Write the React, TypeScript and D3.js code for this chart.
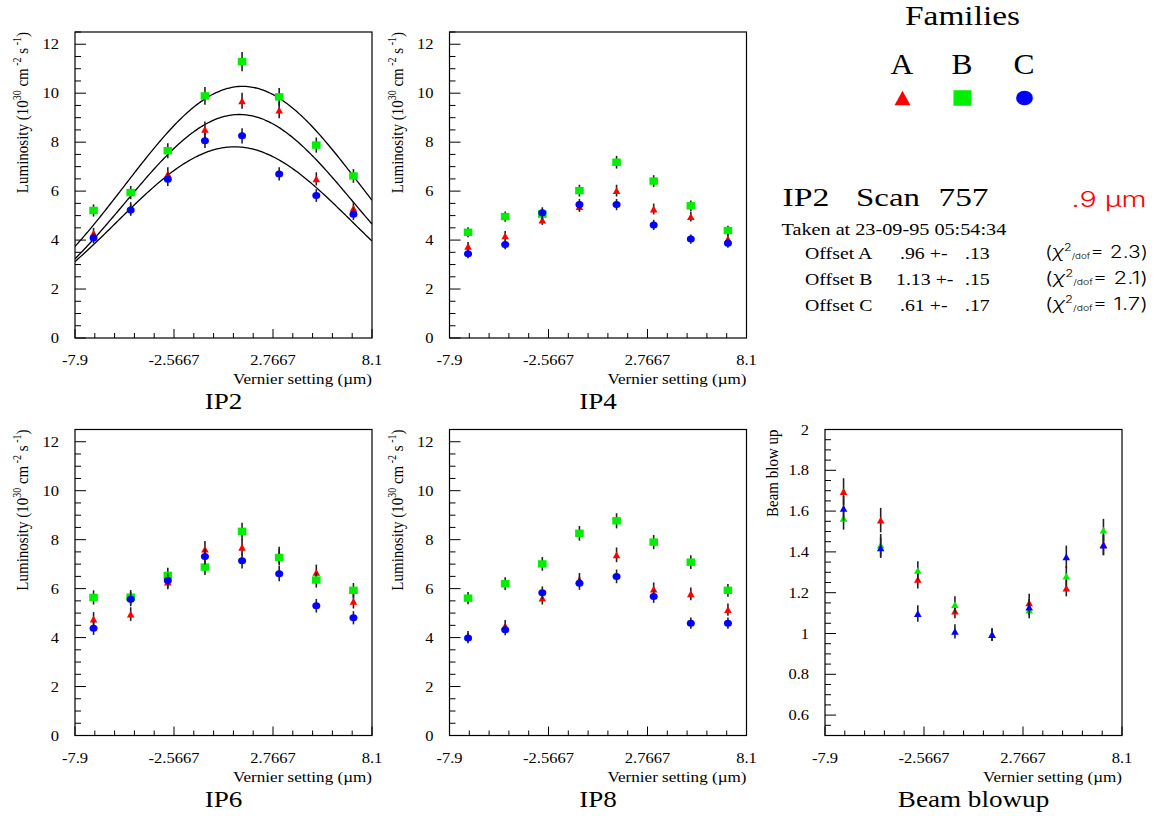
import { useEffect, useRef } from "react"
import * as d3 from "d3"

const SERIF = '"Liberation Serif", "Times New Roman", Times, serif'
const SANS = '"Inter", "Liberation Sans", Arial, sans-serif'

// vernier positions (µm) and axis ticks
const xPos = [-6.9, -4.9, -2.9, -0.9, 1.1, 3.1, 5.1, 7.1]
const xMajorTicks = [-7.9, -2.5667, 2.7667, 8.1]
const xTickLabels = ["-7.9", "-2.5667", "2.7667", "8.1"]
const lumTicks = [0, 2, 4, 6, 8, 10, 12]
const lumTickLabels = ["0", "2", "4", "6", "8", "10", "12"]
const blowTicks = [0.6, 0.8, 1, 1.2, 1.4, 1.6, 1.8, 2]
const blowTickLabels = ["0.6", "0.8", "1", "1.2", "1.4", "1.6", "1.8", "2"]

// IP2 luminosity
const ip2A = [4.28, 5.3, 6.7, 8.52, 9.69, 9.31, 6.5, 5.3]
const ip2B = [5.21, 5.94, 7.65, 9.89, 11.29, 9.85, 7.88, 6.62]
const ip2C = [4.08, 5.23, 6.48, 8.06, 8.26, 6.7, 5.82, 5.06]
const ip2ErrA = [0.22, 0.25, 0.28, 0.32, 0.33, 0.33, 0.27, 0.25]
const ip2ErrB = [0.25, 0.27, 0.31, 0.36, 0.39, 0.36, 0.31, 0.28]
const ip2ErrC = [0.21, 0.24, 0.27, 0.3, 0.31, 0.27, 0.26, 0.24]

// IP4 luminosity
const ip4A = [3.74, 4.17, 4.82, 5.37, 6.02, 5.27, 4.96, 4.05]
const ip4B = [4.32, 4.96, 5.06, 6.02, 7.18, 6.41, 5.4, 4.39]
const ip4C = [3.44, 3.82, 5.12, 5.45, 5.45, 4.62, 4.04, 3.87]
const ip4ErrA = [0.18, 0.2, 0.2, 0.22, 0.24, 0.22, 0.2, 0.19]
const ip4ErrB = [0.2, 0.21, 0.21, 0.24, 0.26, 0.24, 0.22, 0.2]
const ip4ErrC = [0.18, 0.19, 0.22, 0.23, 0.23, 0.21, 0.19, 0.18]

// IP6 luminosity
const ip6A = [4.76, 4.96, 6.27, 7.61, 7.69, 7.38, 6.66, 5.48]
const ip6B = [5.64, 5.65, 6.54, 6.88, 8.34, 7.27, 6.35, 5.93]
const ip6C = [4.38, 5.57, 6.33, 7.31, 7.14, 6.61, 5.3, 4.81]
const ip6ErrA = [0.28, 0.28, 0.3, 0.34, 0.34, 0.33, 0.32, 0.29]
const ip6ErrB = [0.29, 0.29, 0.31, 0.32, 0.35, 0.33, 0.31, 0.3]
const ip6ErrC = [0.27, 0.29, 0.3, 0.32, 0.32, 0.31, 0.28, 0.27]

// IP8 luminosity
const ip8A = [4.05, 4.48, 5.61, 6.36, 7.38, 5.98, 5.79, 5.14]
const ip8B = [5.61, 6.2, 7.01, 8.26, 8.77, 7.9, 7.08, 5.93]
const ip8C = [3.98, 4.32, 5.83, 6.22, 6.5, 5.68, 4.59, 4.59]
const ip8ErrA = [0.22, 0.24, 0.26, 0.28, 0.3, 0.27, 0.26, 0.25]
const ip8ErrB = [0.25, 0.26, 0.28, 0.3, 0.31, 0.29, 0.28, 0.26]
const ip8ErrC = [0.21, 0.22, 0.26, 0.27, 0.28, 0.26, 0.23, 0.23]

// beam blow-up
const blowA = [1.696, 1.556, 1.265, 1.11, 0.995, 1.15, 1.222, 1.436]
const blowB = [1.564, 1.433, 1.309, 1.142, 0.995, 1.115, 1.281, 1.507]
const blowC = [1.613, 1.42, 1.098, 1.01, 0.994, 1.129, 1.376, 1.433]
const blowErrA = [0.065, 0.06, 0.045, 0.035, 0.03, 0.045, 0.04, 0.05]
const blowErrB = [0.055, 0.055, 0.045, 0.04, 0.03, 0.04, 0.05, 0.055]
const blowErrC = [0.06, 0.05, 0.04, 0.035, 0.03, 0.04, 0.055, 0.05]

// gaussian fits on IP2 (A, B, C)
const fitAmp = [9.13, 10.28, 7.81]
const fitMean = [0.96, 1.13, 0.7]
const fitSigma = [6.15, 6.35, 6.35]

const families = ["A", "B", "C"]
const famColors = ["#ff0000", "#00ee00", "#0000ff"]
const offsetVals = [".96 +-", "1.13 +-", ".61 +-"]
const offsetErrs = [".13", ".15", ".17"]
const chi2 = ["2.3", "2.1", "1.7"]

const W = 297
const H = 306

const panels = [
  { name: "IP2", x0: 75, y0: 32, kind: "lum", series: [ip2A, ip2B, ip2C], errs: [ip2ErrA, ip2ErrB, ip2ErrC], fit: true },
  { name: "IP4", x0: 449.5, y0: 32, kind: "lum", series: [ip4A, ip4B, ip4C], errs: [ip4ErrA, ip4ErrB, ip4ErrC], fit: false },
  { name: "IP6", x0: 75, y0: 429.5, kind: "lum", series: [ip6A, ip6B, ip6C], errs: [ip6ErrA, ip6ErrB, ip6ErrC], fit: false },
  { name: "IP8", x0: 449.5, y0: 429.5, kind: "lum", series: [ip8A, ip8B, ip8C], errs: [ip8ErrA, ip8ErrB, ip8ErrC], fit: false },
  { name: "Beam blowup", x0: 825, y0: 429.5, kind: "blow", series: [blowA, blowB, blowC], errs: [blowErrA, blowErrB, blowErrC], fit: false },
]

function addText(parent, x, y, str, size, opts: any = {}) {
  const { anchor = "start", family = SERIF, fill = "#000", sx = 1, w = 0, weight = "normal" } = opts
  const t = parent
    .append("text")
    .attr("text-anchor", anchor)
    .attr("font-family", family)
    .attr("font-size", size)
    .attr("font-weight", weight)
    .attr("fill", fill)
    .text(str)
  let k = sx
  if (w) k = w / t.node().getBBox().width
  t.attr("transform", `translate(${x},${y}) scale(${k},1)`)
  return t
}

function marker(g, shape, cx, cy, color, s = 1) {
  if (shape === "tri") {
    const w = 7.6 * s, h = 6.8 * s
    g.append("path")
      .attr("d", `M${cx - w / 2},${cy + h / 2}L${cx + w / 2},${cy + h / 2}L${cx},${cy - h / 2}Z`)
      .attr("fill", color)
  } else if (shape === "sq") {
    const w = 8.6 * s, h = 7.4 * s
    g.append("rect").attr("x", cx - w / 2).attr("y", cy - h / 2).attr("width", w).attr("height", h).attr("fill", color)
  } else {
    g.append("ellipse").attr("cx", cx).attr("cy", cy).attr("rx", 4 * s).attr("ry", 3.5 * s).attr("fill", color)
  }
}

const App = () => {
  const svgRef = useRef(null)

  useEffect(() => {
    const svg = d3.select(svgRef.current)
    svg.selectAll("*").remove()

    panels.forEach((p, pi) => {
      const g = svg.append("g")
      const x = d3.scaleLinear().domain([-7.9, 8.1]).range([p.x0, p.x0 + W])
      const ydom = p.kind === "lum" ? [0, 12.5] : [0.5, 2]
      const y = d3.scaleLinear().domain(ydom).range([p.y0 + H, p.y0])

      // x ticks (5 minor divisions per major)
      d3.range(16).forEach((i) => {
        const v = -7.9 + (i * 16) / 15
        const len = i % 5 === 0 ? 9 : 5
        g.append("line")
          .attr("x1", x(v)).attr("x2", x(v))
          .attr("y1", p.y0 + H).attr("y2", p.y0 + H - len)
          .attr("stroke", "#000").attr("stroke-width", 1)
      })
      xMajorTicks.forEach((v, i) => {
        addText(g, x(v), p.y0 + H + 27, xTickLabels[i], 15, { anchor: "middle", sx: 1.1 })
      })

      // y ticks
      const minorStep = p.kind === "lum" ? 0.5 : 0.05
      const nMinor = Math.round((ydom[1] - ydom[0]) / minorStep)
      const majors = p.kind === "lum" ? lumTicks : blowTicks
      const majorLabels = p.kind === "lum" ? lumTickLabels : blowTickLabels
      d3.range(nMinor + 1).forEach((i) => {
        const v = ydom[0] + i * minorStep
        const isMajor = majors.some((m) => Math.abs(m - v) < 1e-6)
        g.append("line")
          .attr("x1", p.x0).attr("x2", p.x0 + (isMajor ? 11 : 6))
          .attr("y1", y(v)).attr("y2", y(v))
          .attr("stroke", "#000").attr("stroke-width", 1)
      })
      majors.forEach((v, i) => {
        addText(g, p.x0 - 16, y(v) + 5, majorLabels[i], 15, { anchor: "end", sx: 1.1 })
      })

      // frame
      g.append("rect")
        .attr("x", p.x0).attr("y", p.y0).attr("width", W).attr("height", H)
        .attr("fill", "none").attr("stroke", "#000").attr("stroke-width", 1.2)

      // axis titles
      addText(g, p.x0 + W, p.y0 + H + 46, "Vernier setting (µm)", 15, { anchor: "end", w: 139 })
      const lab = g.append("text")
        .attr("text-anchor", "end")
        .attr("font-family", SERIF)
        .attr("font-size", 15)
        .attr("transform", `translate(${p.x0 - 47},${p.y0}) rotate(-90) scale(1,1.15)`)
      if (p.kind === "lum") {
        lab.append("tspan").text("Luminosity (10")
        lab.append("tspan").attr("font-size", 10).attr("dy", -6).text("30")
        lab.append("tspan").attr("dy", 6).text(" cm")
        lab.append("tspan").attr("font-size", 10).attr("dy", -6).text(" -2")
        lab.append("tspan").attr("dy", 6).text(" s")
        lab.append("tspan").attr("font-size", 10).attr("dy", -6).text(" -1")
        lab.append("tspan").attr("dy", 6).text(")")
      } else {
        lab.text("Beam blow up")
      }

      // panel title
      addText(g, p.x0 + W / 2, p.y0 + H + 71, p.name, 23, { anchor: "middle", sx: 1.18 })

      // fit curves
      if (p.fit) {
        const clipId = `clip${pi}`
        svg.append("clipPath").attr("id", clipId)
          .append("rect").attr("x", p.x0).attr("y", p.y0).attr("width", W).attr("height", H)
        const samples = d3.range(-7.9, 8.15, 0.1)
        fitAmp.forEach((a, k) => {
          const line = d3.line()
            .x((d) => x(d))
            .y((d) => y(a * Math.exp(-((d - fitMean[k]) ** 2) / (2 * fitSigma[k] ** 2))))
            .curve(d3.curveBasis)
          g.append("path")
            .attr("d", line(samples))
            .attr("fill", "none")
            .attr("stroke", "#000")
            .attr("stroke-width", 1.3)
            .attr("clip-path", `url(#${clipId})`)
        })
      }

      // data: error bars then markers, family by family
      const shapes = p.kind === "lum" ? ["tri", "sq", "circ"] : ["tri", "tri", "tri"]
      p.series.forEach((vals, f) => {
        vals.forEach((v, i) => {
          const e = p.errs[f][i]
          g.append("line")
            .attr("x1", x(xPos[i])).attr("x2", x(xPos[i]))
            .attr("y1", y(v - e)).attr("y2", y(v + e))
            .attr("stroke", "#222").attr("stroke-width", 1.6)
        })
        vals.forEach((v, i) => {
          marker(g, shapes[f], x(xPos[i]), y(v), famColors[f])
        })
      })
    })

    // legend
    addText(svg, 962.5, 24.5, "Families", 27, { anchor: "middle", w: 115 })
    const legX = [902, 962, 1024]
    const legShapes = ["tri", "sq", "circ"]
    families.forEach((f, i) => {
      addText(svg, legX[i], 73.5, f, 30, { anchor: "middle", sx: 1.05 })
      marker(svg, legShapes[i], legX[i] + 0.5, 98, famColors[i], 2.1)
    })

    // scan info
    addText(svg, 782.5, 206, "IP2", 26, { w: 47 })
    addText(svg, 856, 206, "Scan", 26, { w: 64 })
    addText(svg, 938.5, 206, "757", 26, { w: 50 })
    addText(svg, 1071.5, 206.5, ".9 µm", 21, { family: SANS, fill: "#ff0000", w: 75, weight: 300 })
    addText(svg, 781.5, 234.5, "Taken at 23-09-95 05:54:34", 16, { w: 225 })

    const rowY = [258.5, 285, 311]
    const valX = [900, 896, 900]
    families.forEach((f, i) => {
      addText(svg, 805, rowY[i], `Offset ${f}`, 16, { sx: 1.24 })
      addText(svg, valX[i], rowY[i], offsetVals[i], 16, { sx: 1.24 })
      addText(svg, 965, rowY[i], offsetErrs[i], 16, { sx: 1.24 })

      const t = svg.append("text").attr("font-family", SANS).attr("font-size", 17)
        .attr("font-weight", 300).attr("fill", "#000")
      t.append("tspan").text("(")
      t.append("tspan").attr("font-style", "italic").text("χ")
      t.append("tspan").attr("font-size", 10).attr("dy", -7).text("2")
      t.append("tspan").attr("font-size", 8).attr("dx", 0).attr("dy", 8).text("/dof")
      t.append("tspan").attr("dy", -1).text("= " + chi2[i] + ")")
      const bw = t.node().getBBox().width
      t.attr("transform", `translate(1045,${rowY[i] - 1}) scale(${103 / bw},1)`)
    })
  }, [])

  return (
    <svg
      ref={svgRef}
      width={1157}
      height={816}
      style={{ position: "absolute", left: 0, top: 0, background: "#fff" }}
    ></svg>
  )
}

export default App
